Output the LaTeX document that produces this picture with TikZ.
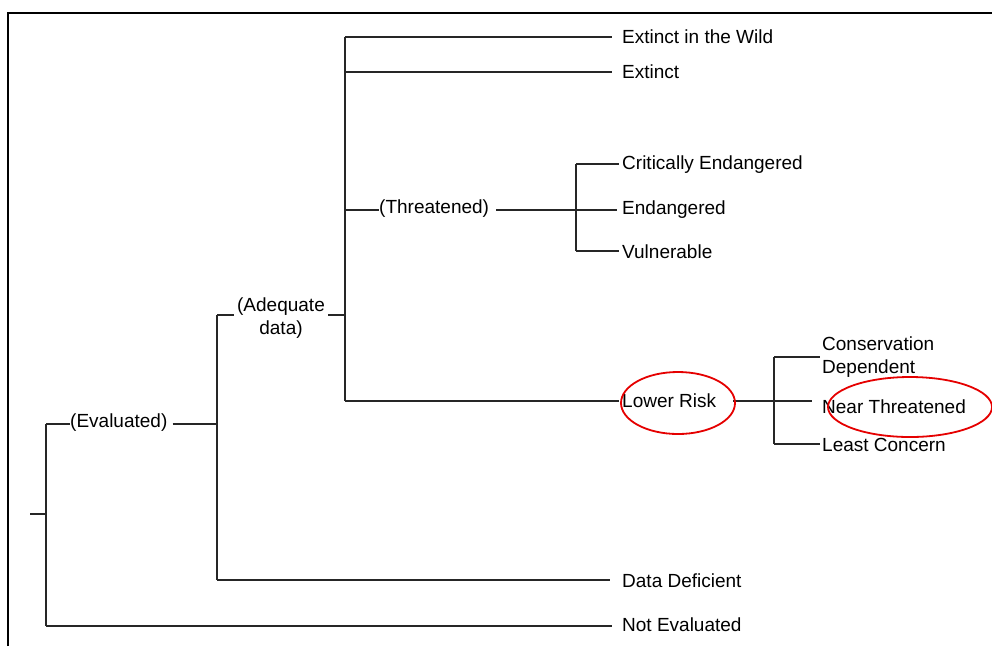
\documentclass[tikz,border=0pt]{standalone}
\usepackage{fontspec}
\newfontfamily\labfont{Liberation Sans}
\begin{document}
\begin{tikzpicture}[x=1pt,y=-1pt,
  lbl/.style={anchor=west,inner sep=0pt,font=\labfont\fontsize{19}{23}\selectfont},
  conn/.style={line width=1.5pt,black!85},
  frameline/.style={line width=2.4pt},
  mark ring/.style={draw=red!90!black,line width=1.8pt}]
\useasboundingbox (0,0) rectangle (992,646);
\draw[frameline] (8,646) -- (8,13) -- (992,13);

% labels
\node[lbl] (ew) at (622,37) {Extinct in the Wild};
\node[lbl] (ex) at (622,72) {Extinct};
\node[lbl] (ce) at (622,165) {Critically Endangered};
\node[lbl] (en) at (622,210) {Endangered};
\node[lbl] (vu) at (622,252) {Vulnerable};
\node[lbl] (lr) at (622,401) {Lower Risk};
\node[lbl,align=left] (cd) at (822,357) {Conservation\\Dependent};
\node[lbl] (nt) at (822,407) {Near Threatened};
\node[lbl] (lc) at (822,445) {Least Concern};
\node[lbl] (dd) at (622,581) {Data Deficient};
\node[lbl] (ne) at (622,625) {Not Evaluated};
\node[lbl] (ev) at (70,423) {(Evaluated)};
\node[lbl] (th) at (379,209) {(Threatened)};
\node[lbl,anchor=center,align=center] (ad) at (281,318) {(Adequate\\data)};

% junction coordinates
\coordinate (r0) at (30,514);
\coordinate (r1) at (46,514);
\coordinate (v1t) at (46,424);
\coordinate (v1b) at (46,626);
\coordinate (v2t) at (217,315);
\coordinate (v2m) at (217,424);
\coordinate (v2b) at (217,580);
\coordinate (v3t) at (345,37);
\coordinate (v3a) at (345,72);
\coordinate (v3m) at (345,210);
\coordinate (v3d) at (345,315);
\coordinate (v3b) at (345,401);
\coordinate (v4t) at (576,164);
\coordinate (v4b) at (576,251);
\coordinate (v5t) at (774,357);
\coordinate (v5m) at (774,401);
\coordinate (v5b) at (774,444);

% trunks
\draw[conn] (v1t) -- (v1b);
\draw[conn] (v2t) -- (v2b);
\draw[conn] (v3t) -- (v3b);
\draw[conn] (v4t) -- (v4b);
\draw[conn] (v5t) -- (v5b);

% branches
\draw[conn] (r0) -- (r1);
\draw[conn] (v1t) -- (ev.west |- v1t);
\draw[conn] ([xshift=5pt]ev.east |- v2m) -- (v2m);
\draw[conn] (v1b) -- ([xshift=-10pt]ne.west |- v1b);
\draw[conn] (v2b) -- ([xshift=-12pt]dd.west |- v2b);
\draw[conn] (v2t) -- (234,315);
\draw[conn] (328,315) -- (v3d);
\draw[conn] (v3t) -- ([xshift=-10pt]ew.west |- v3t);
\draw[conn] (v3a) -- ([xshift=-10pt]ex.west |- v3a);
\draw[conn] (v3m) -- (th.west |- v3m);
\draw[conn] ([xshift=7pt]th.east |- v3m) -- ([xshift=-5pt]en.west |- v3m);
\draw[conn] (v4t) -- ([xshift=-3pt]ce.west |- v4t);
\draw[conn] (v4b) -- ([xshift=-3pt]vu.west |- v4b);
\draw[conn] (v3b) -- ([xshift=-3pt]lr.west |- v3b);
\draw[conn] (733,401) -- ([xshift=-10pt]nt.west |- v5m);
\draw[conn] (v5t) -- ([xshift=-2pt]cd.west |- v5t);
\draw[conn] (v5b) -- ([xshift=-2pt]lc.west |- v5b);

% red rings
\draw[mark ring] (678,403) ellipse [x radius=57pt, y radius=31pt];
\draw[mark ring] (910,407) ellipse [x radius=82pt, y radius=30pt];
\end{tikzpicture}
\end{document}
